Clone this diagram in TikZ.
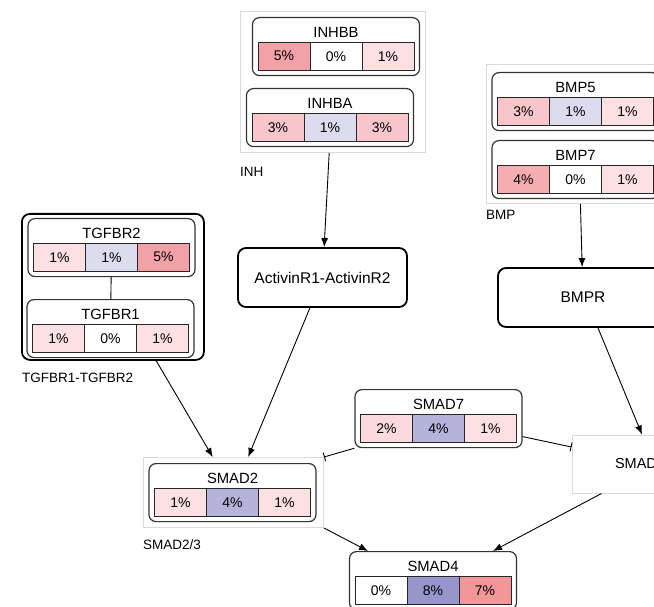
\documentclass[tikz,border=0pt]{standalone}
\usepackage{fontspec}
\setmainfont{Liberation Sans}
\usetikzlibrary{arrows.meta}
\definecolor{rA}{HTML}{FCE0E2}
\definecolor{rB}{HTML}{FADADD}
\definecolor{rC}{HTML}{F8C6CA}
\definecolor{rD}{HTML}{F4AEB2}
\definecolor{rE}{HTML}{F2A2A7}
\definecolor{rG}{HTML}{F29799}
\definecolor{bA}{HTML}{DDDCEE}
\definecolor{bD}{HTML}{B5B3DB}
\definecolor{bH}{HTML}{9795CB}
\definecolor{grpgray}{HTML}{DADADA}
\tikzset{
  prot/.style={draw=black!80, line width=1.2pt, rounded corners=7pt, minimum width=167pt, minimum height=58pt, inner sep=0pt, fill=white},
  cellbox/.style={draw=black!85, line width=0.8pt, minimum width=52pt, minimum height=28pt, inner sep=0pt, font=\fontsize{14}{16}\selectfont},
  ttl/.style={inner sep=0pt, font=\fontsize{14.8}{16}\selectfont},
  grp/.style={draw=grpgray, line width=1pt, inner sep=0pt},
  cplx/.style={draw=black, line width=1.8pt, rounded corners=8pt, inner sep=0pt, font=\fontsize{15.5}{17}\selectfont},
  lbl/.style={anchor=west, inner sep=0pt, font=\fontsize{13.5}{16}\selectfont},
  arr/.style={-{Latex[length=9pt,width=7pt]}, line width=0.9pt},
  inhib/.style={-{Bar[width=9pt]}, line width=0.9pt},
}
\newcommand\protbox[9]{%
  \node[prot,anchor=north] (#1) at (#2) {};
  \node[ttl] (#1-t) at ([yshift=-15pt]#1.north) {#3};
  \node[cellbox,fill=#4] (#1-a) at ([xshift=-52pt,yshift=20pt]#1.south) {#5};
  \node[cellbox,fill=#6] (#1-b) at ([yshift=20pt]#1.south) {#7};
  \node[cellbox,fill=#8] (#1-c) at ([xshift=52pt,yshift=20pt]#1.south) {#9};
}
\begin{document}
\begin{tikzpicture}[x=1pt,y=-1pt]
\useasboundingbox (0,0) rectangle (654,607);
\fill[white] (0,0) rectangle (654,607);
\clip (0,0) rectangle (654,607);
% groups
\node[grp, minimum width=185pt, minimum height=141pt, anchor=north west] (inhgrp) at (240,11) {};
\node[lbl] (inhlbl) at (240,172) {INH};
\node[grp, minimum width=184pt, minimum height=139pt, anchor=north west] (bmpgrp) at (486,64) {};
\node[lbl] (bmplbl) at (486,215) {BMP};
\node[cplx, minimum width=182pt, minimum height=146pt, anchor=north west] (tggrp) at (21,213) {};
\node[lbl] (tglbl) at (22,378) {TGFBR1-TGFBR2};
\node[grp, minimum width=180pt, minimum height=70pt, anchor=north west] (s23grp) at (143,457) {};
\node[lbl] (s23lbl) at (143,545) {SMAD2/3};
% proteins
\protbox{inhbb}{336,17}{INHBB}{rE}{5\%}{white}{0\%}{rA}{1\%}
\protbox{inhba}{330,88}{INHBA}{rC}{3\%}{bA}{1\%}{rC}{3\%}
\protbox{bmp5}{575.5,72}{BMP5}{rC}{3\%}{bA}{1\%}{rA}{1\%}
\protbox{bmp7}{575.5,140}{BMP7}{rD}{4\%}{white}{0\%}{rA}{1\%}
\protbox{tgfbr2}{111.5,218}{TGFBR2}{rA}{1\%}{bA}{1\%}{rE}{5\%}
\protbox{tgfbr1}{110.5,299}{TGFBR1}{rA}{1\%}{white}{0\%}{rA}{1\%}
\protbox{smad2}{232.5,463}{SMAD2}{rA}{1\%}{bD}{4\%}{rA}{1\%}
\protbox{smad7}{438.5,389}{SMAD7}{rB}{2\%}{bD}{4\%}{rA}{1\%}
\protbox{smad4}{433,551}{SMAD4}{white}{0\%}{bH}{8\%}{rG}{7\%}
% complexes
\node[cplx, minimum width=169pt, minimum height=59pt] (act) at (322.5,277.5) {ActivinR1-ActivinR2};
\node[cplx, minimum width=170pt, minimum height=59pt] (bmpr) at (583,297.5) {BMPR};
\node[grp, fill=white, minimum width=136pt, minimum height=58pt, font=\fontsize{14.5}{16}\selectfont] (smad3) at (640,464) {SMAD3};
% connectors
\draw[line width=0.9pt] (tgfbr2) -- (tgfbr1);
\draw[arr] (inhgrp) -- (act);
\draw[arr] (bmpgrp) -- (bmpr);
\draw[arr] (tggrp) -- (s23grp);
\draw[arr] (act) -- (s23grp);
\draw[arr] ([xshift=15pt]bmpr.south) -- ([xshift=2pt]smad3.north);
\draw[arr] ([xshift=30pt]smad3.south west) -- ([xshift=60pt]smad4.north);
\draw[arr] (s23grp.south east) -- ([xshift=-65pt]smad4.north);
\draw[inhib] (smad7.south west) -- (s23grp.north east);
\draw[inhib] ([yshift=-18pt]smad7.east) -- ([yshift=17pt]smad3.west);
\end{tikzpicture}
\end{document}
